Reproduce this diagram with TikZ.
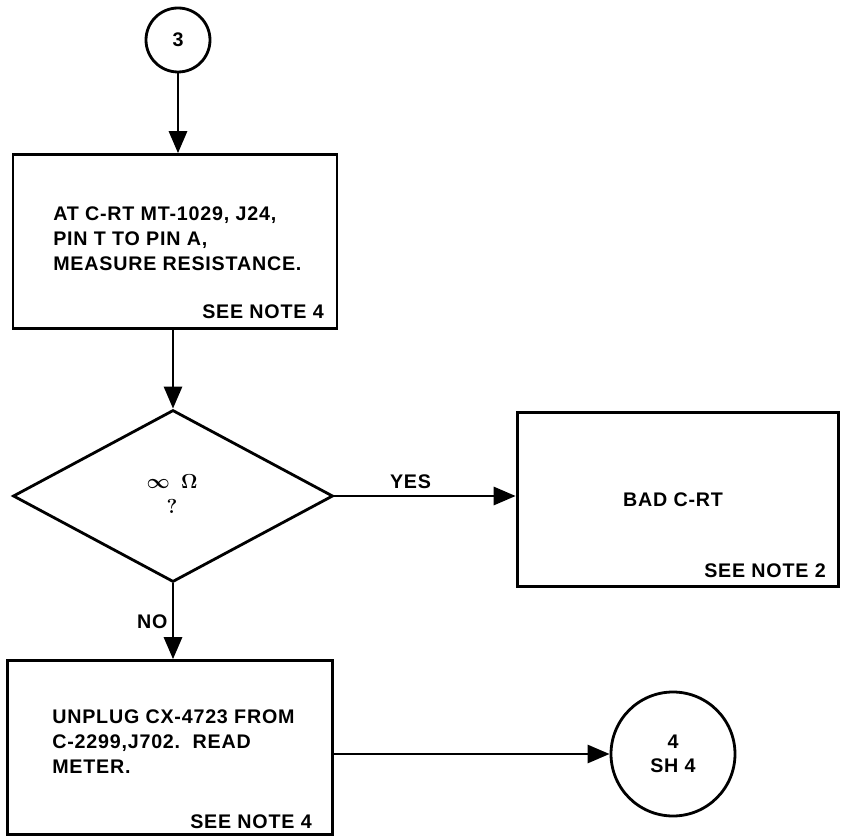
\documentclass[tikz,border=0pt]{standalone}
\usepackage{fontspec}
\usepackage{tikz}
\usetikzlibrary{arrows.meta}
\usetikzlibrary{shapes.geometric}
\newfontfamily\chartfont{Liberation Sans}[LetterSpace=4]
\tikzset{
    chart/.style={line width=2pt},
    box/.style={draw, rectangle, line width=2pt, inner sep=0pt, minimum width=#1, minimum height=4.35cm},
    box/.default=8.1cm,
    decision/.style={draw, diamond, line width=2pt, inner sep=0pt, minimum width=8cm, minimum height=4.3cm},
    conn/.style={draw, circle, line width=2pt, inner sep=0pt, minimum size=#1, align=center, font=\chartfont\bfseries\fontsize{14}{17.8}\selectfont},
    txt/.style={inner sep=0pt, align=left, font=\chartfont\bfseries\fontsize{14}{17.8}\selectfont},
    flow/.style={line width=2pt, -{Triangle[length=5.5mm,width=4.5mm]}}
}

\begin{document}
\begin{tikzpicture}
    \useasboundingbox (0,0) rectangle (21.05,20.95);
    % connectors and boxes
    \node[conn=1.6cm] (c3) at (4.45,19.95) {3};
    \node[box] (measure) at (4.375,14.91) {};
    \node[decision] (ohm) at (4.325,8.55) {};
    \node[box=8.025cm] (bad) at (16.94,8.46) {};
    \node[box=8.125cm] (unplug) at (4.26,2.26) {};
    \node[conn=3.1cm] (c4) at (16.825,2.1) {4\\[-1pt]SH 4};
    % texts
    \node[txt, anchor=north west] (t1) at (1.325,15.79) {AT C-RT MT-1029, J24,\\PIN T TO PIN A,\\MEASURE RESISTANCE.};
    \node[txt, anchor=south east] (n1) at (8.1,12.975) {SEE NOTE 4};
    \node[inner sep=0pt, align=center, font=\fontsize{14.4}{18.4}\selectfont\boldmath] (q) at (4.3,8.6) {$\infty\hspace{8pt}\Omega$\\$?$};
    \node[txt] (t2) at (16.825,8.45) {BAD C-RT};
    \node[txt, anchor=south east] (n2) at (20.65,6.5) {SEE NOTE 2};
    \node[txt, anchor=north west] (t3) at (1.3,3.21) {UNPLUG CX-4723 FROM\\C-2299,J702.\ \ READ\\METER.};
    \node[txt, anchor=south east] (n3) at (7.8,0.225) {SEE NOTE 4};
    % arrows
    \draw[flow] (c3.south) -- (c3.south |- measure.north);
    \draw[flow] (ohm.north |- measure.south) -- (ohm.north);
    \draw[flow] (ohm.east) -- (ohm.east -| bad.west) node[txt, pos=0.42, above=4pt] (yes) {YES};
    \draw[flow] (ohm.south) -- (ohm.south |- unplug.north) node[txt, pos=0.5, left=3pt] (no) {NO};
    \draw[flow] (unplug.east |- c4.west) -- (c4.west);
\end{tikzpicture}
\end{document}
